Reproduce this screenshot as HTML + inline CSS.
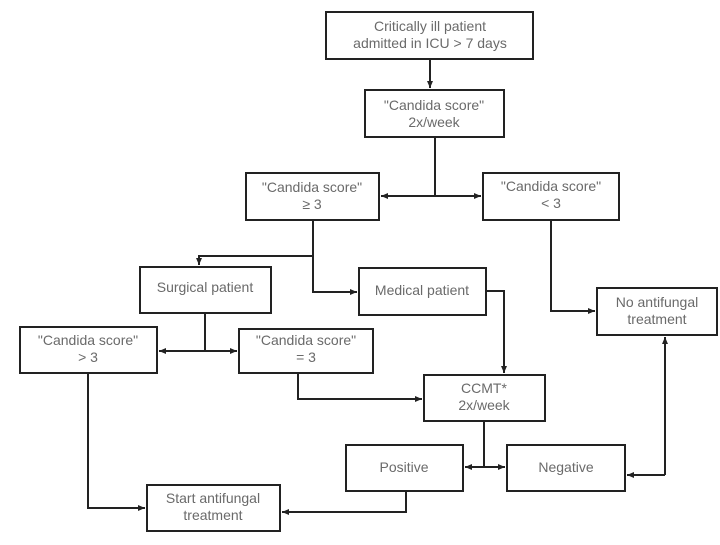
<!DOCTYPE html>
<html><head><style>
body{margin:0;background:#fff;width:720px;height:540px;overflow:hidden}
</style></head><body>
<svg width="720" height="540" xmlns="http://www.w3.org/2000/svg" font-family="Liberation Sans, sans-serif" font-size="14" fill="#6a6a6a">
<defs><marker id="a" markerWidth="4" markerHeight="4" refX="3.5" refY="2" orient="auto"><path d="M0,0.5 L3.5,2 L0,3.5z" fill="#222"/></marker></defs>
<g fill="#fff" stroke="#222" stroke-width="2">
<rect x="326" y="12" width="207" height="47"/>
<rect x="365" y="90" width="139" height="47"/>
<rect x="246" y="173" width="133" height="47"/>
<rect x="483" y="173" width="136" height="47"/>
<rect x="140" y="267" width="131" height="46"/>
<rect x="359" y="268" width="127" height="47"/>
<rect x="597" y="288" width="120" height="47"/>
<rect x="20" y="327" width="137" height="46"/>
<rect x="239" y="329" width="134" height="44"/>
<rect x="424" y="375" width="121" height="46"/>
<rect x="346" y="445" width="117" height="46"/>
<rect x="507" y="445" width="118" height="46"/>
<rect x="147" y="485" width="133" height="46"/>
</g>
<g fill="none" stroke="#222" stroke-width="2">
<path d="M430 59V88" marker-end="url(#a)"/>
<path d="M435 137V196"/>
<path d="M435 196H381" marker-end="url(#a)"/>
<path d="M435 196H481" marker-end="url(#a)"/>
<path d="M313 220V292H357" marker-end="url(#a)"/>
<path d="M313 256H199V265" marker-end="url(#a)"/>
<path d="M486 291H504V373" marker-end="url(#a)"/>
<path d="M551 220V311H595" marker-end="url(#a)"/>
<path d="M205 313V351"/>
<path d="M205 351H159" marker-end="url(#a)"/>
<path d="M205 351H237" marker-end="url(#a)"/>
<path d="M298 373V399H422" marker-end="url(#a)"/>
<path d="M484 421V467"/>
<path d="M484 467H465" marker-end="url(#a)"/>
<path d="M484 467H505" marker-end="url(#a)"/>
<path d="M665 475H627" marker-end="url(#a)"/>
<path d="M665 475V337" marker-end="url(#a)"/>
<path d="M406 491V512H282" marker-end="url(#a)"/>
<path d="M88 373V508H145" marker-end="url(#a)"/>
</g>
<g text-anchor="middle">
<text x="430" y="31">Critically ill patient</text><text x="430" y="48">admitted in ICU &gt; 7 days</text>
<text x="434" y="110">"Candida score"</text><text x="434" y="127">2x/week</text>
<text x="312" y="192">"Candida score"</text><text x="312" y="209">≥ 3</text>
<text x="551" y="191">"Candida score"</text><text x="551" y="208">&lt; 3</text>
<text x="205" y="292">Surgical patient</text>
<text x="422" y="295">Medical patient</text>
<text x="657" y="307">No antifungal</text><text x="657" y="324">treatment</text>
<text x="88" y="345">"Candida score"</text><text x="88" y="362">&gt; 3</text>
<text x="306" y="345">"Candida score"</text><text x="306" y="362">= 3</text>
<text x="484" y="393">CCMT*</text><text x="484" y="410">2x/week</text>
<text x="404" y="472">Positive</text>
<text x="566" y="472">Negative</text>
<text x="213" y="503">Start antifungal</text><text x="213" y="520">treatment</text>
</g>
</svg>
</body></html>
